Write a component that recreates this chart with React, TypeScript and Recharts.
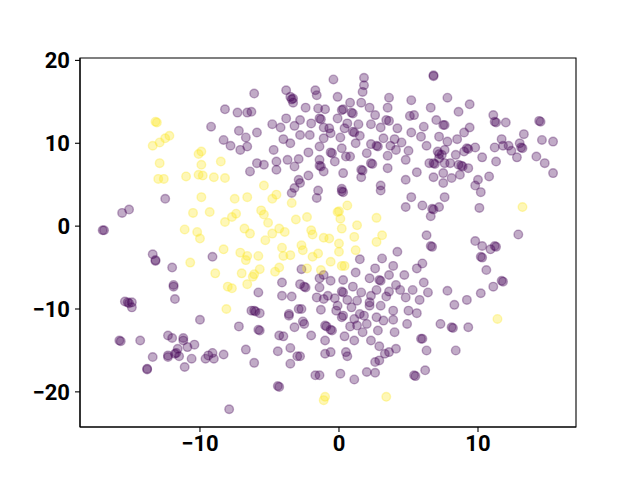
import { ScatterChart, Scatter, XAxis, YAxis, ReferenceArea } from 'recharts'

// cluster A (dark purple) and cluster B (yellow)
const purplePts: number[][] = [
  [-6.1,16.0],[-3.8,16.4],[-3.5,15.6],[-3.4,15.3],[-3.3,15.4],[-3.3,14.9],[-1.7,16.4],[-1.6,15.8],[-8.2,14.1],[-7.3,13.7],
  [-6.6,13.7],[-6.3,13.8],[-2.4,14.3],[-1.5,14.2],[-1.0,14.1],[-3.8,13.0],[-2.8,12.8],[-1.4,13.0],[-1.3,12.9],[-4.8,12.3],
  [-4.2,11.9],[-3.2,12.1],[-2.0,12.4],[-1.1,11.9],[-9.2,12.0],[-7.2,11.5],[-5.9,11.3],[-6.7,10.7],[-8.3,10.4],[-7.8,9.7],
  [-7.1,9.2],[-6.6,9.6],[-4.0,10.5],[-3.5,10.0],[-2.8,11.0],[-2.1,11.0],[-1.1,10.6],[-4.7,9.2],[-2.2,8.9],[-1.4,9.6],
  [-5.9,7.6],[-5.4,7.4],[-4.5,7.8],[-3.7,8.0],[-2.9,8.1],[-4.5,6.8],[-3.2,7.2],[-1.4,8.0],[-1.4,7.3],[-1.3,7.2],
  [-1.1,6.6],[-6.4,6.6],[-2.2,6.1],[-2.9,5.6],
  [6.8,18.2],[6.8,18.1],[-0.4,17.7],[1.8,17.9],[1.8,17.0],[1.7,16.2],[-0.1,15.6],[0.8,14.9],[1.6,14.9],[3.6,15.5],
  [5.2,15.2],[7.8,15.5],[0.2,14.0],[0.3,14.1],[0.9,13.7],[1.0,13.6],[2.2,14.3],[3.5,14.3],[6.6,14.3],[-0.1,13.0],
  [0.6,12.4],[1.4,12.3],[2.6,13.4],[3.4,12.8],[3.6,12.7],[5.1,13.3],[5.4,13.4],[7.0,12.8],[7.5,12.2],[7.6,12.2],
  [-0.7,11.8],[0.4,11.8],[1.0,11.4],[1.1,11.3],[2.3,12.3],[3.0,11.9],[4.2,11.8],[6.1,12.0],[-0.6,11.2],[0.1,10.7],
  [1.5,10.9],[2.3,9.9],[2.7,9.7],[2.8,9.6],[3.2,10.6],[4.0,10.5],[4.5,10.1],[5.2,11.3],[5.9,10.8],[7.2,10.8],
  [7.8,10.2],[0.2,9.4],[1.2,10.0],[3.7,9.7],[4.1,9.2],[5.0,9.1],[6.3,9.7],[-0.6,8.9],[-0.5,8.8],[-0.3,7.8],
  [0.5,8.4],[0.8,8.4],[2.0,8.8],[3.5,8.5],[4.8,8.0],[6.5,7.6],[6.8,7.6],[6.9,7.5],[7.1,9.0],[7.4,8.6],
  [7.2,8.7],[7.6,9.2],[7.2,8.2],[7.6,7.6],[8.0,7.6],[2.3,7.6],[2.4,7.5],[1.6,6.8],[1.7,6.7],[3.5,7.0],
  [0.3,6.4],[1.6,5.9],[4.8,5.6],[5.6,6.5],[6.8,5.9],[7.5,6.4],
  [9.4,14.7],[8.6,13.8],[11.1,13.4],[11.2,12.6],[11.3,12.5],[12.0,12.5],[14.4,12.7],[14.5,12.6],[9.4,11.9],[9.0,11.3],
  [8.5,10.5],[13.3,11.1],[11.7,10.5],[14.6,10.4],[15.4,10.2],[13.0,10.0],[13.1,9.5],[13.2,9.4],[11.2,9.5],[11.8,9.7],
  [12.2,9.7],[12.4,9.1],[12.8,8.3],[9.8,9.5],[9.2,9.4],[9.3,9.3],[9.0,9.0],[8.4,8.6],[10.3,8.3],[14.2,8.4],
  [14.8,7.6],[15.4,6.4],[11.3,7.8],[8.6,7.4],[8.8,7.3],[8.9,7.2],[9.3,7.0],[8.7,6.2],[10.8,6.0],[10.0,5.6],[8.1,5.8],
  [-12.5,3.3],[-15.6,1.6],[-15.1,2.0],[-17.0,-0.5],[-16.9,-0.5],[-13.4,-3.4],[-13.2,-4.1],[-13.2,-4.2],[-12.0,-5.0],[-11.9,-7.1],
  [-11.9,-7.3],[-11.8,-8.8],[-15.4,-9.1],[-15.2,-9.2],[-15.1,-9.3],[-14.9,-9.2],
  [-9.1,-3.7],[-3.4,4.0],[-3.2,4.6],[-2.8,5.2],[-1.5,4.3],[-1.6,3.4],[-2.7,-5.2],[-4.1,-6.8],[-2.8,-7.0],[-2.5,-7.3],
  [-2.4,-7.4],[-1.4,-6.3],[-1.1,-5.9],[-1.4,-7.4],[-5.8,-8.0],[-4.1,-8.4],[-3.4,-8.5],[-1.6,-8.6],[-1.1,-8.8],[-0.8,-8.4],
  [0.2,4.5],[0.2,4.2],[0.3,4.1],[3.0,4.9],[3.0,4.3],[7.5,5.2],[5.2,3.5],[4.8,2.3],[6.0,2.5],[6.7,2.1],
  [6.8,2.0],[7.2,2.3],[7.6,3.5],[6.6,1.2],[6.3,-1.1],[6.6,-2.4],[6.7,-2.5],[4.2,-3.1],[1.5,-4.0],[3.1,-3.9],
  [6.0,-4.5],[5.6,-5.1],[2.6,-5.1],[3.9,-4.8],[1.2,-5.6],[3.6,-5.9],[4.7,-5.9],[0.3,-6.5],[2.2,-6.3],[2.9,-6.5],
  [3.0,-6.6],[6.1,-6.8],[-0.6,-6.6],[1.0,-7.3],[4.1,-7.1],[0.2,-7.9],[0.3,-8.0],[1.6,-8.0],[2.7,-7.7],[3.6,-7.9],
  [4.4,-7.7],[5.3,-7.7],[6.4,-8.0],[7.8,-7.8],[0.6,-8.9],[1.3,-9.0],[2.3,-8.4],[3.4,-8.5],[4.8,-8.6],[5.8,-8.9],
  [-0.3,-8.7],[2.2,-9.2],
  [9.8,4.9],[10.2,4.1],[10.1,2.2],[12.9,-1.0],[9.8,-1.8],[10.3,-2.4],[10.9,-2.8],[11.2,-2.4],[11.3,-2.5],[10.2,-3.7],
  [10.3,-3.8],[10.6,-5.3],[11.7,-6.6],[11.8,-6.7],[11.1,-7.3],[10.2,-8.1],[9.2,-8.9],[8.3,-9.5],
  [-14.9,-9.8],[-10.0,-11.3],[-15.8,-13.8],[-15.7,-13.9],[-14.3,-13.8],[-12.3,-13.2],[-12.0,-13.5],[-11.2,-13.5],[-11.2,-13.8],[-10.9,-14.6],
  [-10.4,-14.3],[-11.6,-14.8],[-11.8,-15.4],[-11.7,-15.3],[-12.3,-15.6],[-12.3,-15.8],[-11.5,-15.7],[-13.4,-15.8],[-10.6,-16.0],[-9.6,-16.0],
  [-13.8,-17.2],[-13.8,-17.3],[-11.1,-17.0],
  [-6.3,-10.2],[-6.1,-10.2],[-6.0,-10.3],[-5.7,-10.5],[-3.6,-10.6],[-3.6,-10.8],[-2.9,-10.0],[-2.7,-10.0],[-1.3,-10.1],[-2.6,-11.5],
  [-2.5,-11.8],[-3.2,-12.2],[-7.2,-12.1],[-5.8,-12.5],[-5.7,-12.6],[-4.3,-13.2],[-4.0,-13.3],[-2.0,-13.2],[-1.0,-12.0],[-0.9,-12.1],
  [-1.0,-13.8],[-9.4,-15.6],[-9.1,-15.3],[-9.0,-16.0],[-8.3,-15.5],[-6.7,-14.9],[-6.1,-16.5],[-4.4,-15.1],[-3.5,-14.7],[-3.0,-15.7],
  [-2.8,-15.7],[-3.5,-16.6],[-1.0,-15.4],[-1.7,-18.0],[-1.4,-18.0],[-4.4,-19.3],[-4.3,-19.4],[-7.9,-22.1],
  [-0.2,-10.2],[0.3,-10.8],[0.2,-11.0],[-0.1,-9.6],[0.9,-9.8],[2.2,-9.6],[3.0,-9.6],[3.9,-10.2],[5.0,-10.2],[5.6,-10.5],
  [1.5,-10.6],[1.1,-11.2],[1.8,-10.8],[2.7,-11.0],[3.2,-11.4],[3.9,-11.3],[4.9,-11.8],[7.3,-11.8],[8.1,-12.2],[8.2,-12.3],
  [0.8,-12.1],[1.3,-12.0],[2.0,-11.8],[-0.6,-12.5],[-0.5,-12.6],[1.7,-12.8],[2.8,-12.6],[4.0,-12.8],[0.4,-13.3],[1.1,-13.8],
  [2.3,-13.8],[2.9,-14.5],[4.1,-14.8],[5.9,-13.6],[6.0,-13.6],[6.3,-15.0],[3.3,-15.4],[3.6,-15.2],[-0.6,-15.2],[0.5,-15.2],
  [0.6,-15.7],[2.6,-16.4],[2.9,-16.2],[0.1,-17.8],[2.0,-17.6],[2.6,-17.7],[1.1,-18.5],[5.4,-18.0],[5.5,-18.1],[6.2,-17.4],
  [9.3,-12.2],[8.4,-15.0],
]

const yellowPts: number[][] = [
  [-13.2,12.6],[-13.1,12.5],[-13.4,9.7],[-12.9,10.1],[-12.5,10.6],[-12.2,10.9],[-12.9,7.6],[-13.0,5.7],[-12.6,5.7],[-11.0,6.0],
  [-10.1,8.7],[-9.9,9.0],[-9.9,7.4],[-10.1,6.2],[-9.8,6.1],[-8.5,7.8],[-9.0,5.9],[-8.2,5.8],
  [-9.9,3.5],[-10.5,1.6],[-11.1,-0.4],[-10.2,-0.7],[-10.0,-1.5],[-10.7,-4.4],
  [-5.4,4.9],[-7.5,3.3],[-6.6,3.5],[-4.8,3.3],[-4.5,3.8],[-3.4,2.8],[-9.3,1.7],[-8.2,0.5],[-7.7,1.1],[-7.4,1.5],
  [-5.6,1.9],[-5.4,1.4],[-5.1,0.4],[-3.1,0.8],[-2.3,1.1],[-6.8,-0.3],[-6.4,-0.9],[-4.8,-0.9],[-4.3,-0.3],[-3.9,-0.7],
  [-2.0,-0.5],[-1.9,-1.0],[-1.1,-1.4],[-5.3,-1.7],[-8.3,-2.8],[-7.1,-3.2],[-6.6,-3.6],[-6.7,-4.1],[-5.8,-3.6],[-4.1,-2.6],
  [-4.0,-3.6],[-3.5,-3.5],[-2.7,-2.3],[-2.6,-2.9],[-1.9,-3.7],[-1.5,-3.3],[-8.9,-5.7],[-7.0,-5.7],[-6.1,-5.8],[-6.2,-6.1],
  [-5.7,-5.2],[-4.6,-5.5],[-4.3,-5.0],[-2.3,-5.1],[-1.3,-5.3],[-8.0,-7.3],[-7.7,-7.5],[-6.6,-7.0],
  [0.6,2.5],[-0.1,1.7],[0.0,1.8],[0.1,0.9],[2.7,1.0],[1.3,0.1],[0.2,-0.3],[3.1,-1.1],[1.1,-1.3],[-0.7,-1.5],
  [0.0,-2.1],[2.7,-1.9],[0.0,-3.1],[1.2,-2.9],[-0.6,-4.3],[0.2,-4.8],[0.4,-4.8],
  [13.2,2.3],[-8.1,-10.0],[-1.1,-21.0],[-1.0,-20.6],[3.4,-20.6],[11.4,-11.2],
]

const xTicks = [-10, 0, 10]
const yTicks = [-20, -10, 0, 10, 20]
const xDomain = [-18.63, 17.05]
const yDomain = [-24.24, 20.29]

const purple = purplePts.map(([x, y]) => ({ x, y }))
const yellow = yellowPts.map(([x, y]) => ({ x, y }))

const fmt = (v: number) => (v < 0 ? '\u2212' + Math.abs(v) : String(v))

const tickStyle = { fontFamily: 'Roboto', fontWeight: 'bold', fontSize: 22, fill: '#000' }

const dot = (color: string) => (props: any) => (
  <circle
    cx={props.cx}
    cy={props.cy}
    r={4.3}
    fill={color}
    fillOpacity={0.33}
    stroke={color}
    strokeOpacity={0.33}
    strokeWidth={1.4}
  />
)

export default function App() {
  return (
    <div style={{ position: 'absolute', left: 0, top: 0, background: '#fff' }}>
      <ScatterChart width={640} height={480} margin={{ top: 58, right: 64, left: 0, bottom: 0 }}>
        <XAxis
          type="number"
          dataKey="x"
          domain={xDomain}
          ticks={xTicks}
          allowDataOverflow
          height={53}
          tickFormatter={fmt}
          tick={tickStyle}
          tickSize={5}
          tickMargin={3}
          stroke="#000"
          axisLine={{ stroke: '#000', strokeWidth: 1.1 }}
          tickLine={{ stroke: '#000', strokeWidth: 1.1 }}
        />
        <YAxis
          type="number"
          dataKey="y"
          domain={yDomain}
          ticks={yTicks}
          allowDataOverflow
          width={80}
          tickFormatter={fmt}
          tick={tickStyle}
          tickSize={5}
          tickMargin={5}
          stroke="#000"
          axisLine={{ stroke: '#000', strokeWidth: 1.1 }}
          tickLine={{ stroke: '#000', strokeWidth: 1.1 }}
        />
        <Scatter data={purple} shape={dot('#440154')} isAnimationActive={false} />
        <Scatter data={yellow} shape={dot('#fde725')} isAnimationActive={false} />
        <ReferenceArea
          x1={xDomain[0]}
          x2={xDomain[1]}
          y1={yDomain[0]}
          y2={yDomain[1]}
          fill="none"
          stroke="#000"
          strokeWidth={1.1}
          fillOpacity={0}
        />
      </ScatterChart>
    </div>
  )
}
